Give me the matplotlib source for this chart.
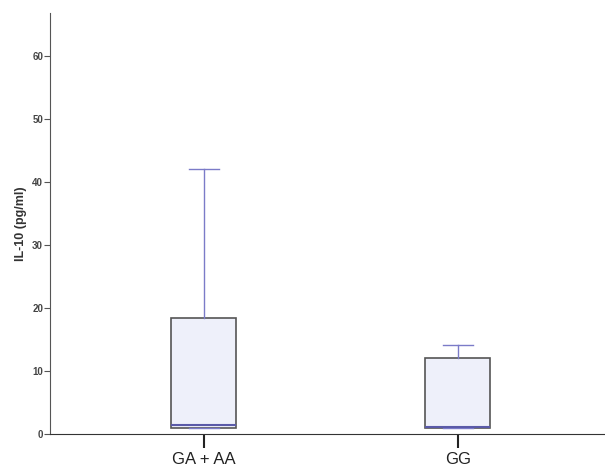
import matplotlib.pyplot as plt

plt.rcParams['font.family'] = ['Liberation Sans', 'DejaVu Sans']

# box plot summary values
groups = ['GA + AA', 'GG']
q1 = [0.9, 0.9]
median = [1.4, 1.1]
q3 = [18.4, 12.1]
whis_lo = [0.9, 0.9]
whis_hi = [42.1, 14.1]

stats = []
for i, g in enumerate(groups):
    stats.append({'label': g, 'q1': q1[i], 'med': median[i], 'q3': q3[i],
                  'whislo': whis_lo[i], 'whishi': whis_hi[i], 'fliers': []})

fig = plt.figure(figsize=(6.05, 4.70), dpi=100)
ax = fig.add_axes([0.0826, 0.0766, 0.9174, 0.8954])

ax.bxp(stats, positions=[0, 1], widths=0.256, capwidths=0.12,
       showfliers=False, patch_artist=True,
       boxprops=dict(facecolor='#eef0fa', edgecolor='#555555', linewidth=1.2),
       medianprops=dict(color='#5a5aa8', linewidth=1.5),
       whiskerprops=dict(color='#7b7bc8', linewidth=1),
       capprops=dict(color='#7b7bc8', linewidth=1))

ax.set_xlim(-0.606, 1.579)
ax.set_ylim(0, 66.8)
ax.set_yticks([0, 10, 20, 30, 40, 50, 60])
ax.set_xticks([0, 1])
ax.set_xticklabels(groups, fontsize=12, color='#222222')

ax.spines['top'].set_visible(False)
ax.spines['right'].set_visible(False)
ax.spines['left'].set_color('#555555')
ax.spines['bottom'].set_color('#333333')

ax.tick_params(axis='y', direction='out', length=4, width=0.8, labelsize=7,
               colors='#555555', labelcolor='#444444', pad=1)
ax.tick_params(axis='x', direction='out', length=10, width=1.5, pad=3,
               colors='#222222')
for lbl in ax.get_yticklabels():
    lbl.set_fontweight('bold')

ax.set_ylabel('IL-10 (pg/ml)', fontsize=9, fontweight='bold', color='#333333', labelpad=4)

plt.savefig('out.png', dpi=100)
plt.close()
